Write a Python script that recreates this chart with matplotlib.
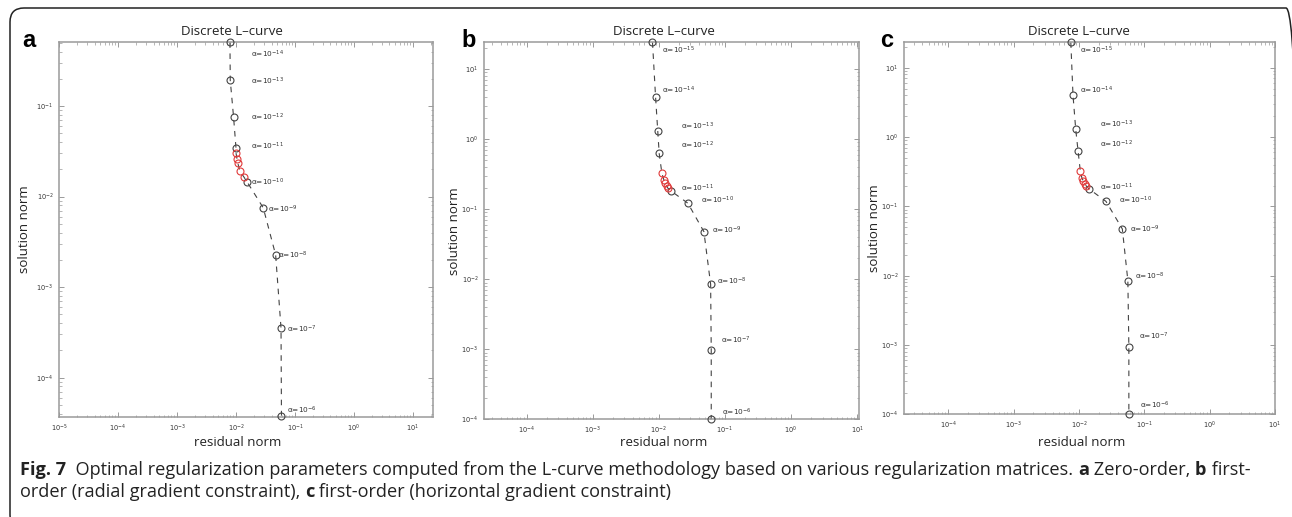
"""
Discrete L-curves for three regularization matrices (Fig. 7)
"""
import numpy as np
import matplotlib
matplotlib.use('Agg')
import matplotlib.pyplot as plt
from matplotlib.patches import FancyBboxPatch

W, H, DPI = 1292, 517, 100

# ---- data: panel a (zero-order) ----
resid_a = [0.0079, 0.0080, 0.0091, 0.0100, 0.0100, 0.0104, 0.0107, 0.0117, 0.0135,
           0.0156, 0.029, 0.047, 0.058, 0.059]
soln_a = [0.506, 0.192, 0.0756, 0.0344, 0.0305, 0.026, 0.0236, 0.019, 0.0166,
          0.01435, 0.0075, 0.00227, 3.52e-4, 3.8e-5]
red_a = [4, 5, 6, 7, 8]
exp_a = [-14, -13, -12, -11, -10, -9, -8, -7, -6]
lab_x_a = [0.0177, 0.0177, 0.0177, 0.0177, 0.0177, 0.0352, 0.052, 0.072, 0.073]
lab_y_a = [0.372, 0.189, 0.0756, 0.036, 0.0144, 0.00718, 0.00226, 3.4e-4, 4.4e-5]

# ---- data: panel b (first-order, radial gradient) ----
resid_b = [0.0080, 0.0089, 0.0096, 0.0101, 0.0111, 0.0119, 0.0125, 0.0131, 0.0137,
           0.0150, 0.0275, 0.048, 0.0607, 0.062, 0.062]
soln_b = [24.3, 4.06, 1.33, 0.63, 0.327, 0.262, 0.235, 0.215, 0.200,
          0.185, 0.122, 0.0479, 0.0085, 9.8e-4, 1.0e-4]
red_b = [4, 5, 6, 7, 8]
exp_b = [-15, -14, -13, -12, -11, -10, -9, -8, -7, -6]
lab_x_b = [0.0111, 0.0111, 0.0218, 0.0218, 0.0218, 0.0439, 0.0645, 0.0749, 0.0861, 0.091]
lab_y_b = [18.9, 4.94, 1.51, 0.81, 0.197, 0.136, 0.0506, 0.00946, 1.36e-3, 1.24e-4]

# ---- data: panel c (first-order, horizontal gradient) ----
resid_c = [0.0075, 0.0081, 0.0089, 0.0097, 0.0105, 0.0111, 0.0117, 0.0122, 0.0128,
           0.0141, 0.0259, 0.0461, 0.056, 0.058, 0.058]
soln_c = [23.3, 4.04, 1.32, 0.62, 0.32, 0.256, 0.232, 0.213, 0.199,
          0.18, 0.118, 0.0472, 0.00847, 9.45e-4, 1.0e-4]
red_c = [4, 5, 6, 7, 8]
exp_c = [-15, -14, -13, -12, -11, -10, -9, -8, -7, -6]
lab_x_c = [0.0102, 0.0102, 0.0207, 0.0207, 0.0207, 0.0409, 0.0603, 0.0711, 0.0831, 0.086]
lab_y_c = [18.0, 4.77, 1.52, 0.785, 0.19, 0.122, 0.0472, 0.00967, 1.35e-3, 1.36e-4]

panels = [
    dict(tag='a', resid=resid_a, soln=soln_a, red=red_a, exps=exp_a, lx=lab_x_a, ly=lab_y_a,
         xlim=(1e-5, 21.6), ylim=(3.7e-5, 0.506),
         rect=(59, 42.3, 432.7, 416.7), title_x=0.464, ylab_px=25, tag_px=(22, 47)),
    dict(tag='b', resid=resid_b, soln=soln_b, red=red_b, exps=exp_b, lx=lab_x_b, ly=lab_y_b,
         xlim=(2.25e-5, 10.7), ylim=(1e-4, 24.3),
         rect=(484, 42.3, 859, 419.3), title_x=0.48, ylab_px=455, tag_px=(461, 47)),
    dict(tag='c', resid=resid_c, soln=soln_c, red=red_c, exps=exp_c, lx=lab_x_c, ly=lab_y_c,
         xlim=(2.1e-5, 10.0), ylim=(1e-4, 23.3),
         rect=(904, 42.3, 1275, 414.3), title_x=0.472, ylab_px=874, tag_px=(880, 47)),
]

GREY = '#333333'
SPINE = '#9a9a9a'
RED = '#e03a3a'


def decades(lo, hi):
    # major ticks: powers of ten inside the limits only
    return np.power(10.0, np.arange(np.ceil(np.log10(lo) - 1e-9),
                                    np.floor(np.log10(hi) + 1e-9) + 1))


fig = plt.figure(figsize=(W / DPI, H / DPI), dpi=DPI)
fig.patch.set_facecolor('white')

for p in panels:
    x0, y0, x1, y1 = p['rect']
    ax = fig.add_axes([x0 / W, 1 - y1 / H, (x1 - x0) / W, (y1 - y0) / H])
    ax.set_xscale('log')
    ax.set_yscale('log')
    ax.set_xticks(decades(*p['xlim']))
    ax.set_yticks(decades(*p['ylim']))
    ax.set_xlim(*p['xlim'])
    ax.set_ylim(*p['ylim'])

    r = np.array(p['resid'])
    s = np.array(p['soln'])
    ax.plot(r, s, ls=(0, (5, 5)), color='#444444', lw=0.8, zorder=2, clip_on=False)
    is_red = np.zeros(len(r), dtype=bool)
    is_red[p['red']] = True
    ax.plot(r[~is_red], s[~is_red], 'o', ms=5, mfc='none', mec='#444444', mew=0.8,
            zorder=3, clip_on=False)
    ax.plot(r[is_red], s[is_red], 'o', ms=5, mfc='none', mec=RED, mew=0.8,
            zorder=3, clip_on=False)

    for e, tx, ty in zip(p['exps'], p['lx'], p['ly']):
        ax.text(tx, ty, '\u03b1=10$^{%d}$' % e, fontsize=5.3, color=GREY,
                ha='left', va='center')

    for sp in ax.spines.values():
        sp.set_color(SPINE)
        sp.set_linewidth(1.1)
    ax.tick_params(which='both', direction='in', top=True, right=True,
                   color=SPINE, labelsize=4.8, labelcolor=GREY)
    ax.tick_params(which='major', length=3.5, width=0.7, pad=4)
    ax.tick_params(which='minor', length=1.8, width=0.5)

    ax.set_title('Discrete L\u2013curve', x=p['title_x'], fontsize=9.5, color='#222222',
                 pad=5, family='Open Sans')
    fig.text(p['ylab_px'] / W, 1 - (y0 + y1) / 2 / H, 'solution norm', rotation=90,
             ha='center', va='center', fontsize=9.5, color='#222222', family='Open Sans')
    fig.text((x0 + x1) / 2 / W - 8 / W, 1 - 443 / H, 'residual norm',
             ha='center', va='center', fontsize=9.5, color='#222222', family='Open Sans')
    fig.text(p['tag_px'][0] / W, 1 - p['tag_px'][1] / H, p['tag'], fontsize=17,
             fontweight='bold', ha='left', va='baseline', family='Liberation Sans')

# rounded frame around the figure (pixel coordinates)
frame = FancyBboxPatch((10, -12), 1290, 521, boxstyle='round,pad=0,rounding_size=14',
                       transform=None, fill=False, ec='#222222', lw=1.1, zorder=0)
fig.patches.append(frame)

# caption with bold pieces
line1 = [('Fig. 7', True), ('  Optimal regularization parameters computed from the L-curve '
         'methodology based on various regularization matrices. ', False),
         ('a', True), (' Zero-order, ', False), ('b', True), (' first-', False)]
line2 = [('order (radial gradient constraint), ', False), ('c', True),
         (' first-order (horizontal gradient constraint)', False)]

renderer = fig.canvas.get_renderer()


def draw_line(pieces, x_px, y_px, size):
    x = x_px
    for txt, bold in pieces:
        t = fig.text(x / W, 1 - y_px / H, txt, fontsize=size, family='Open Sans',
                     fontweight='bold' if bold else 'normal', color='#222222',
                     ha='left', va='baseline')
        x = t.get_window_extent(renderer).x1
    return x


def line_width(pieces, size):
    tot = 0
    for txt, bold in pieces:
        t = fig.text(0.5, 0.5, txt, fontsize=size, family='Open Sans',
                     fontweight='bold' if bold else 'normal')
        tot += t.get_window_extent(renderer).width
        t.remove()
    return tot


cap_size = 13 * 1222 / line_width(line1, 13)
draw_line(line1, 20, 475, cap_size)
draw_line(line2, 20, 497, cap_size)

fig.savefig('out.png', dpi=DPI)
plt.close(fig)
